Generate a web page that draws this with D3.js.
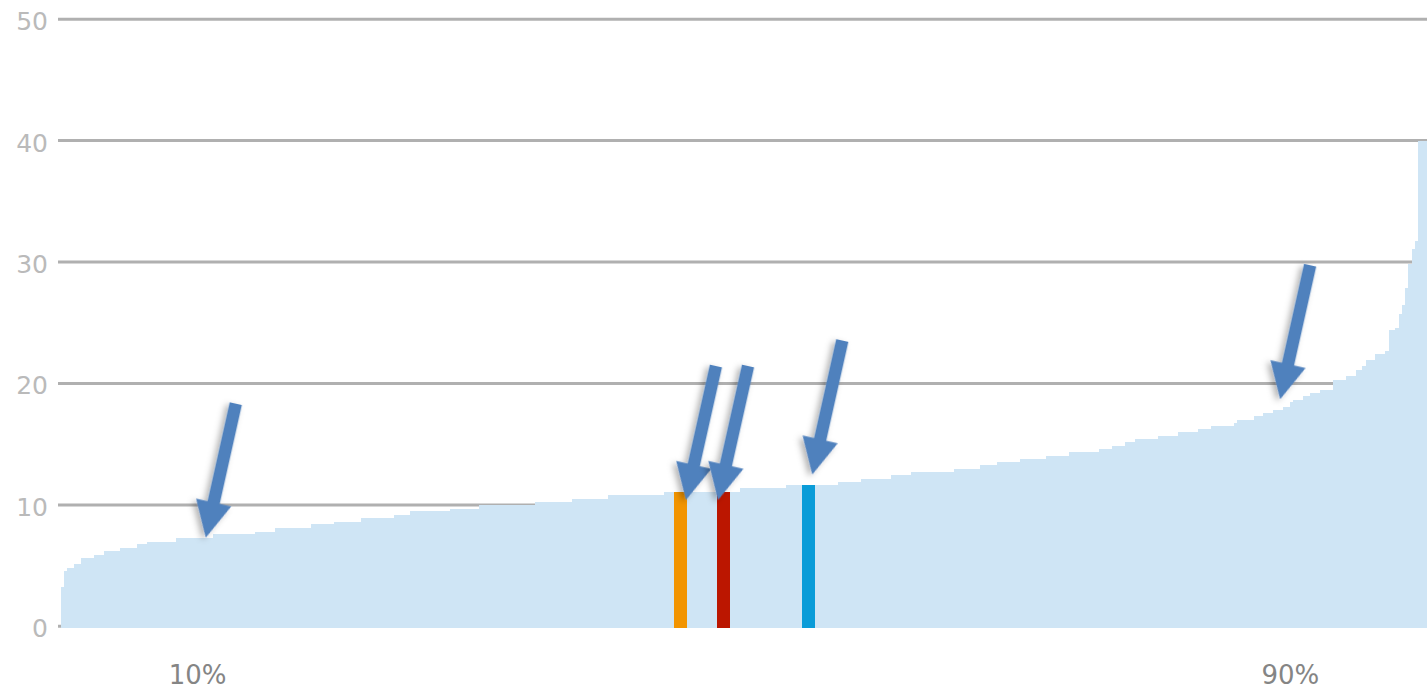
<!DOCTYPE html>
<html><head><meta charset="utf-8">
<script src="https://cdn.jsdelivr.net/npm/d3@7"></script>
<style>html,body{margin:0;padding:0;background:#fff;overflow:hidden}</style>
</head><body>
<svg id="c" width="1427" height="693"></svg>
<script>
// Sorted distribution, drawn as steps: start percentile and value of each plateau
const stepStart = [0, 0.22, 0.46, 0.95, 1.46, 2.42, 3.15, 4.32, 5.56, 6.30, 8.42, 11.13, 14.20, 15.67, 18.30, 19.99,
  21.96, 24.38, 25.55, 28.48, 30.60, 34.70, 37.41, 40.04, 44.14, 49.71, 53.07, 56.88, 58.57, 60.76, 62.23,
  65.37, 67.28, 68.52, 70.20, 72.11, 73.79, 75.99, 76.94, 77.89, 78.62, 80.31, 81.77, 83.24, 84.19, 85.87,
  86.09, 87.34, 88.00, 88.73, 89.46, 89.97, 90.19, 90.92, 91.43, 92.17, 93.12, 94.07, 94.80, 95.24, 95.53,
  96.19, 96.93, 97.22, 97.66, 97.95, 98.17, 98.39, 98.61, 98.90, 99.12, 99.34];
const stepValue = [3.2, 4.55, 4.8, 5.1, 5.65, 5.9, 6.2, 6.47, 6.74, 6.96, 7.24, 7.57, 7.8, 8.06, 8.39, 8.63,
  8.88, 9.15, 9.48, 9.7, 9.98, 10.25, 10.5, 10.8, 11.1, 11.35, 11.62, 11.87, 12.17, 12.44, 12.7,
  12.99, 13.26, 13.5, 13.76, 14.06, 14.33, 14.58, 14.88, 15.16, 15.43, 15.7, 15.98, 16.25, 16.47, 16.75,
  17.0, 17.3, 17.57, 17.85, 18.1, 18.44, 18.67, 18.94, 19.2, 19.5, 20.3, 20.6, 21.1, 21.4, 21.9,
  22.45, 22.7, 24.4, 24.6, 25.7, 26.5, 27.9, 29.8, 31.1, 31.7, 40.0];

const yTicks = [0, 10, 20, 30, 40, 50];
const percentLabels = ["10%", "90%"];
const percentLabelPos = [10, 90];

// Highlighted entries
const highlightPct = [45.35, 48.5, 54.72];
const highlightValue = [11.1, 11.1, 11.6];
const highlightColors = ["#f29400", "#bb1600", "#0a9cd8"];

// Arrow annotations (tip position in data units)
const arrowTipPct = [10.6, 45.75, 48.1, 55.0, 89.25];
const arrowTipValue = [7.3, 10.4, 10.4, 12.5, 18.7];

const svg = d3.select("#c");
const x = d3.scaleLinear().domain([0, 100]).range([61, 1427]);
const y = d3.scaleLinear().domain([0, 50]).range([626.3, 19.2]);

const defs = svg.append("defs");
const f = defs.append("filter").attr("id", "sh").attr("x", "-50%").attr("y", "-50%").attr("width", "200%").attr("height", "200%");
f.append("feDropShadow").attr("dx", 3).attr("dy", 3).attr("stdDeviation", 3)
  .attr("flood-color", "#000").attr("flood-opacity", 0.3);

// gridlines
svg.append("g").selectAll("line").data(yTicks).join("line")
  .attr("x1", x(0) - 3).attr("x2", 1427)
  .attr("y1", d => y(d)).attr("y2", d => y(d))
  .attr("stroke", "#b0b0b0").attr("stroke-width", 3);

// tick labels
svg.append("g").selectAll("text").data(yTicks).join("text")
  .attr("x", 48).attr("y", d => y(d) + 11)
  .attr("text-anchor", "end")
  .attr("font-family", "DejaVu Sans, sans-serif").attr("font-size", 25)
  .attr("fill", "#bababa")
  .text(d => d);

// distribution bars
const steps = stepStart.map((s, i) => ({ s, e: i + 1 < stepStart.length ? stepStart[i + 1] : 100, v: stepValue[i] }));
svg.append("g").attr("shape-rendering", "crispEdges").selectAll("rect").data(steps).join("rect")
  .attr("x", d => x(d.s)).attr("width", d => x(d.e) - x(d.s) + 0.6)
  .attr("y", d => y(d.v)).attr("height", d => y(0) + 1.5 - y(d.v))
  .attr("fill", "#cfe5f5");

// highlighted bars
const hw = 0.95;
svg.append("g").attr("shape-rendering", "crispEdges").selectAll("rect").data(highlightPct).join("rect")
  .attr("x", (d) => x(d - hw / 2)).attr("width", x(hw) - x(0))
  .attr("y", (d, i) => y(highlightValue[i])).attr("height", (d, i) => y(0) + 1.5 - y(highlightValue[i]))
  .attr("fill", (d, i) => highlightColors[i]);

// percentile labels
svg.append("g").selectAll("text").data(percentLabels).join("text")
  .attr("x", (d, i) => x(percentLabelPos[i])).attr("y", 684)
  .attr("text-anchor", "middle")
  .attr("font-family", "DejaVu Sans, sans-serif").attr("font-size", 26)
  .attr("fill", "#858585")
  .text(d => d);

// arrows
const tailDx = 30, tailDy = -134;
const w = 6.3, hl = 36, hh = 18;
svg.append("g").selectAll("path").data(arrowTipPct).join("path")
  .attr("filter", "url(#sh)")
  .attr("fill", "#4f81bd")
  .attr("d", (d, i) => {
    const tx = x(d), ty = y(arrowTipValue[i]);
    const sx = tx + tailDx, sy = ty + tailDy;
    const L = Math.hypot(tx - sx, ty - sy);
    return `M0,${-w} L${L - hl},${-w} L${L - hl},${-hh} L${L},0 L${L - hl},${hh} L${L - hl},${w} L0,${w} Z`;
  })
  .attr("transform", (d, i) => {
    const tx = x(d), ty = y(arrowTipValue[i]);
    const sx = tx + tailDx, sy = ty + tailDy;
    const ang = Math.atan2(ty - sy, tx - sx) * 180 / Math.PI;
    return `translate(${sx},${sy}) rotate(${ang})`;
  });
</script>
</body></html>
